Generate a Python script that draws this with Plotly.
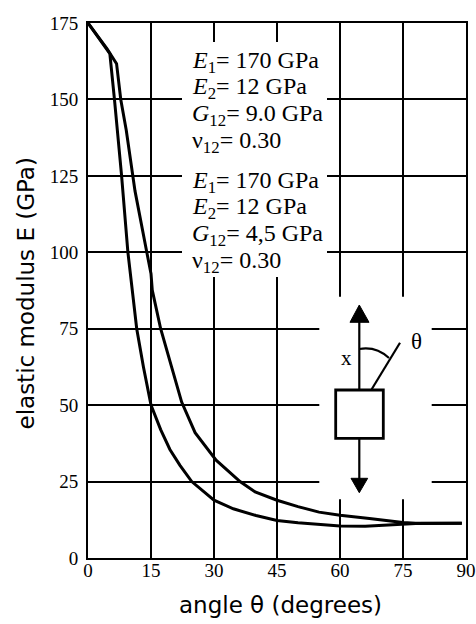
import plotly.graph_objects as go

# ---- data ----
angle_g90 = [0, 4.5, 6.8, 7.8, 9.1, 10.8, 11.2, 14.0, 15.0, 15.3, 17.3, 19.9, 22.3, 25.5, 30.5, 36.2, 39.8, 45, 50, 55, 60, 67, 75, 78, 89]
E_g90 = [175, 166.6, 161.7, 150, 140, 125, 120, 100, 93, 87.6, 75, 62.5, 51, 41, 32, 25, 21.6, 18.9, 16.8, 15.0, 14.0, 12.9, 11.6, 11.4, 11.4]

angle_g45 = [0, 4.5, 5.2, 6.3, 7.0, 8.0, 9.5, 10.5, 11.6, 13.2, 15.0, 17.3, 19.5, 21.9, 24.7, 30, 34.6, 40, 45, 50, 55, 60, 66, 70.3, 75, 78, 89]
E_g45 = [175, 166.6, 165, 150, 140, 125, 100, 88, 75, 62.5, 50, 42, 35.5, 30.3, 25, 18.9, 16.1, 13.9, 12.3, 11.5, 10.9, 10.5, 10.4, 10.7, 11.2, 11.3, 11.4]

x_ticks = [0, 15, 30, 45, 60, 75, 90]
y_ticks = [0, 25, 50, 75, 100, 125, 150, 175]
X_RANGE = [0, 90]
Y_RANGE = [0, 175]

params_g90 = ["<i>E</i><sub>1</sub>= 170 GPa", "<i>E</i><sub>2</sub>= 12 GPa",
              "<i>G</i><sub>12</sub>= 9.0 GPa", "ν<sub>12</sub>= 0.30"]
params_g45 = ["<i>E</i><sub>1</sub>= 170 GPa", "<i>E</i><sub>2</sub>= 12 GPa",
              "<i>G</i><sub>12</sub>= 4,5 GPa", "ν<sub>12</sub>= 0.30"]

# ---- layout geometry (pixels) ----
W, H = 476, 624
L, R, T, B = 88, 10, 23, 66
PW, PH = W - L - R, H - T - B


def PX(px):
    return (px - L) / PW


def PY(py):
    return (H - B - py) / PH


SERIF = "Liberation Serif, Times New Roman, serif"
SANS = "DejaVu Sans, sans-serif"

fig = go.Figure()
for xs, ys in [(angle_g90, E_g90), (angle_g45, E_g45)]:
    fig.add_trace(go.Scatter(x=xs, y=ys, mode="lines",
                             line=dict(color="black", width=3),
                             showlegend=False, hoverinfo="skip"))

shapes = []


def mask(px0, px1, py0, py1):
    # white box (axis-referenced so it sits between gridlines and traces)
    sx = X_RANGE[1] - X_RANGE[0]
    sy = Y_RANGE[1] - Y_RANGE[0]
    return dict(type="rect", xref="x", yref="y",
                x0=X_RANGE[0] + PX(px0) * sx, x1=X_RANGE[0] + PX(px1) * sx,
                y0=Y_RANGE[0] + PY(py1) * sy, y1=Y_RANGE[0] + PY(py0) * sy,
                fillcolor="white", line=dict(width=0), layer="between")


shapes.append(mask(182, 327, 42, 277))
shapes.append(mask(319.3, 431.7, 296.7, 499.3))


def line(p1, p2, w=2.2):
    return dict(type="line", xref="paper", yref="paper", x0=PX(p1[0]), y0=PY(p1[1]), x1=PX(p2[0]), y1=PY(p2[1]),
                line=dict(color="black", width=w), layer="above")


def path(pts, close=True, fill="black", w=1):
    s = "M " + " L ".join(f"{PX(a):.5f},{PY(b):.5f}" for a, b in pts)
    if close:
        s += " Z"
    return dict(type="path", xref="paper", yref="paper", path=s, fillcolor=fill,
                line=dict(color="black", width=w), layer="above")


cx = 359.3
shapes.append(line((cx, 320), (cx, 390)))
shapes.append(path([(350, 322.3), (cx, 305), (369, 322.3)]))
shapes.append(dict(type="rect", xref="paper", yref="paper", x0=PX(335.7), x1=PX(383.3), y0=PY(438.3), y1=PY(390),
                   line=dict(color="black", width=2.8), fillcolor="rgba(0,0,0,0)", layer="above"))
shapes.append(line((cx, 438.3), (cx, 480)))
shapes.append(path([(351, 478.3), (cx, 492.7), (367.7, 478.3)]))
shapes.append(line((371.7, 389.3), (400, 342.7)))
arc = (f"M {PX(cx):.5f},{PY(349):.5f} Q {PX(376):.5f},{PY(346):.5f} {PX(389):.5f},{PY(358):.5f}")
shapes.append(dict(type="path", xref="paper", yref="paper", path=arc,
                   line=dict(color="black", width=2.2), layer="above"))

annotations = []
ys1 = [61.7, 88.3, 115, 141.7]
ys2 = [181.7, 208.3, 235, 261.7]
for txt, yy in list(zip(params_g90, ys1)) + list(zip(params_g45, ys2)):
    annotations.append(dict(xref="paper", yref="paper", x=PX(190), y=PY(yy), text=txt, showarrow=False,
                            xanchor="left", yanchor="middle", font=dict(family=SERIF, size=24, color="black")))
annotations.append(dict(xref="paper", yref="paper", x=PX(346), y=PY(358), text="x", showarrow=False,
                        xanchor="center", yanchor="middle", font=dict(family=SERIF, size=21, color="black")))
annotations.append(dict(xref="paper", yref="paper", x=PX(416), y=PY(341), text="θ", showarrow=False,
                        xanchor="center", yanchor="middle", font=dict(family=SERIF, size=23, color="black")))
annotations.append(dict(xref="paper", yref="paper", x=PX(280.5), y=PY(605), text="angle θ (degrees)",
                        showarrow=False, xanchor="center", yanchor="middle",
                        font=dict(family=SANS, size=23, color="black")))
annotations.append(dict(xref="paper", yref="paper", x=PX(25), y=PY(293.5), text="elastic modulus E (GPa)",
                        showarrow=False, xanchor="center", yanchor="middle", textangle=-90,
                        font=dict(family=SANS, size=23, color="black")))

axis_common = dict(showgrid=True, gridcolor="black", gridwidth=1.7, showline=True, linecolor="black",
                   linewidth=2, mirror=True, ticks="", zeroline=False, automargin=False,
                   tickfont=dict(family=SERIF, size=19, color="black"))

fig.update_layout(
    width=W, height=H, margin=dict(l=L, r=R, t=T, b=B, pad=0, autoexpand=False),
    paper_bgcolor="white", plot_bgcolor="white",
    xaxis=dict(range=X_RANGE, tickvals=x_ticks, ticklabelstandoff=-6, **axis_common),
    yaxis=dict(range=Y_RANGE, tickvals=y_ticks, ticklabelstandoff=4, **axis_common),
    shapes=shapes, annotations=annotations,
)

fig.write_html("out.html", config={"displayModeBar": False},
               post_script="document.body.style.margin='0';document.body.style.padding='0';")
